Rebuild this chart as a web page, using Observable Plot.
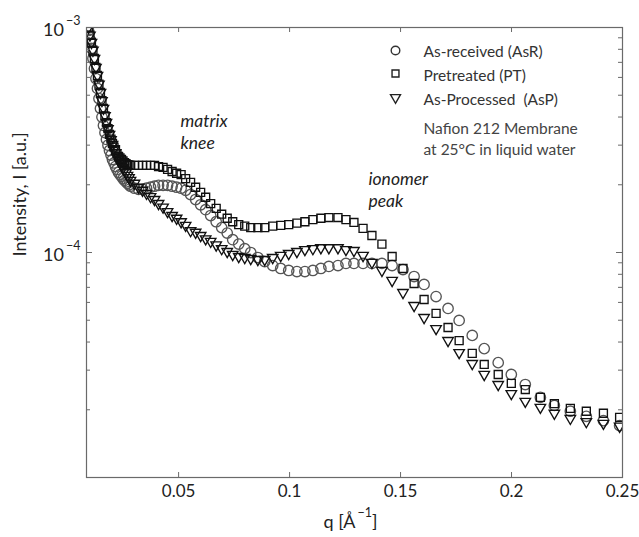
<!DOCTYPE html>
<html><head><meta charset="utf-8">
<script src="https://cdn.jsdelivr.net/npm/d3@7"></script>
<script src="https://cdn.jsdelivr.net/npm/@observablehq/plot@0.6"></script>
<style>html,body{margin:0;padding:0;background:#fff;} #chart{width:639px;height:537px;}</style>
</head><body><div id="chart"></div>
<script>
// scattering vector q [1/Å], shared by the three measurements
const q = [0.00937, 0.01005, 0.01072, 0.0114, 0.01208, 0.01275, 0.01343, 0.01411, 0.01479, 0.01546,
  0.01614, 0.01682, 0.01749, 0.01817, 0.01885, 0.01953, 0.0202, 0.02088, 0.02156, 0.02223,
  0.02291, 0.02359, 0.02427, 0.02494, 0.02562, 0.0263, 0.02697, 0.02765, 0.02833,
  0.03013, 0.03194, 0.03375, 0.03555, 0.03736,
  0.03916, 0.04097, 0.0430, 0.04503, 0.04707, 0.0491, 0.05113, 0.05316, 0.0554, 0.05767,
  0.05993, 0.06219, 0.06445, 0.06693, 0.06941, 0.0719, 0.07438, 0.07709, 0.0798, 0.0825,
  0.0857, 0.0888, 0.0924, 0.0960, 0.0996, 0.1033, 0.1069, 0.1105, 0.1141, 0.1177,
  0.1218, 0.1254, 0.1290, 0.1331, 0.1371, 0.1416, 0.1462, 0.1511, 0.1561, 0.1606,
  0.1660, 0.1714, 0.1764, 0.1823, 0.1877, 0.1940, 0.1999, 0.2062, 0.2130, 0.2193,
  0.2265, 0.2337, 0.2414, 0.2487];
// intensities in units of 1e-4 a.u.
const asReceived = [9.70, 8.85, 8.07, 7.28, 6.57, 5.93, 5.36, 4.83, 4.37, 4.00,
  3.67, 3.41, 3.18, 3.00, 2.84, 2.71, 2.59, 2.50, 2.41, 2.34,
  2.27, 2.22, 2.18, 2.13, 2.09, 2.06, 2.03, 2.00, 1.97,
  1.93, 1.91, 1.91, 1.93, 1.95,
  1.97, 1.99, 1.99, 1.99, 1.97, 1.95, 1.93, 1.89, 1.81, 1.72,
  1.63, 1.55, 1.46, 1.37, 1.29, 1.22, 1.14, 1.09, 1.04, 1.00,
  0.950, 0.912, 0.875, 0.849, 0.832, 0.823, 0.823, 0.832, 0.849, 0.867,
  0.875, 0.894, 0.894, 0.894, 0.894, 0.894, 0.875, 0.840, 0.782, 0.721,
  0.637, 0.564, 0.499, 0.428, 0.374, 0.324, 0.287, 0.259, 0.227, 0.209,
  0.197, 0.187, 0.179, 0.170];
const pretreated = [10.0, 9.25, 8.58, 7.92, 7.28, 6.65, 6.12, 5.60, 5.14, 4.73,
  4.37, 4.05, 3.78, 3.55, 3.35, 3.19, 3.05, 2.94, 2.84, 2.75,
  2.67, 2.63, 2.59, 2.55, 2.51, 2.48, 2.46, 2.45, 2.44,
  2.44, 2.44, 2.44, 2.44, 2.44,
  2.44, 2.41, 2.39, 2.34, 2.29, 2.25, 2.22, 2.13, 2.05, 1.95,
  1.85, 1.76, 1.65, 1.57, 1.48, 1.42, 1.37, 1.33, 1.31, 1.29,
  1.29, 1.29, 1.31, 1.32, 1.33, 1.35, 1.37, 1.40, 1.42, 1.43,
  1.43, 1.40, 1.36, 1.28, 1.19, 1.09, 0.960, 0.849, 0.728, 0.618,
  0.536, 0.464, 0.406, 0.356, 0.318, 0.287, 0.262, 0.246, 0.227, 0.213,
  0.203, 0.197, 0.193, 0.185];
const asProcessed = [10.0, 9.25, 8.58, 7.92, 7.28, 6.65, 6.12, 5.60, 5.14, 4.73,
  4.37, 4.05, 3.78, 3.55, 3.35, 3.17, 3.02, 2.89, 2.78, 2.68,
  2.59, 2.51, 2.44, 2.38, 2.32, 2.26, 2.20, 2.15, 2.09,
  2.03, 1.95, 1.89, 1.83, 1.77,
  1.72, 1.65, 1.59, 1.52, 1.46, 1.42, 1.37, 1.32, 1.25, 1.23,
  1.19, 1.15, 1.12, 1.08, 1.04, 1.01, 0.980, 0.960, 0.950, 0.940,
  0.931, 0.931, 0.950, 0.970, 0.990, 1.01, 1.03, 1.04, 1.05, 1.05,
  1.05, 1.03, 1.02, 0.970, 0.903, 0.832, 0.751, 0.664, 0.581, 0.514,
  0.459, 0.406, 0.359, 0.321, 0.287, 0.259, 0.236, 0.218, 0.205, 0.193,
  0.183, 0.177, 0.174, 0.169];

const xTicks = [0.05, 0.1, 0.15, 0.2, 0.25];
const xTickLabels = ["0.05", "0.1", "0.15", "0.2", "0.25"];
const yMajor = [1e-3, 1e-4];
const yTickLabels = ["10^−3", "10^−4"];
const yMinor = [2e-5, 3e-5, 4e-5, 5e-5, 6e-5, 7e-5, 8e-5, 9e-5,
  2e-4, 3e-4, 4e-4, 5e-4, 6e-4, 7e-4, 8e-4, 9e-4];
const legendLabels = ["As-received (AsR)", "Pretreated (PT)", "As-Processed  (AsP)"];
const noteLines = ["Nafion 212 Membrane", "at 25°C in liquid water"];
const annotations = ["matrix\nknee", "ionomer\npeak"];
const xLabel = "q [Å^−1]";
const yLabel = "Intensity, I [a.u.]";

const W = 639, H = 537, ML = 86, MR = 17, MT = 27, MB = 60;
const innerW = W - ML - MR, innerH = H - MT - MB;
const rows = vals => q.map((d, i) => ({q: d, I: vals[i] * 1e-4}));

const styles = [
  {symbol: "circle", r: 5.2, stroke: "#555", rotate: 0, lr: 4.3, lstroke: "#333"},
  {symbol: "square", r: 4.5, stroke: "#111", rotate: 0, lr: 3.9, lstroke: "#222"},
  {symbol: "triangle", r: 3.9, stroke: "#111", rotate: 180, lr: 3.7, lstroke: "#222"}
];
const series = [asReceived, pretreated, asProcessed];
const axisColor = "#6a6a6a";
const textColor = "#222";

const marks = [];
series.forEach((vals, k) => {
  const s = styles[k];
  marks.push(Plot.dot(rows(vals), {x: "q", y: "I", symbol: s.symbol, r: s.r, rotate: s.rotate,
    stroke: s.stroke, strokeWidth: 1.35, fill: "none", clip: true}));
});
marks.push(
  Plot.frame({stroke: axisColor, strokeWidth: 1.2}),
  Plot.tickX(xTicks, {x: d => d, insetTop: innerH - 5, stroke: axisColor}),
  Plot.tickX(xTicks, {x: d => d, insetBottom: innerH - 5, stroke: axisColor}),
  Plot.tickY(yMajor, {y: d => d, insetRight: innerW - 6, stroke: axisColor}),
  Plot.tickY(yMajor, {y: d => d, insetLeft: innerW - 6, stroke: axisColor}),
  Plot.tickY(yMinor, {y: d => d, insetRight: innerW - 4, stroke: axisColor}),
  Plot.tickY(yMinor, {y: d => d, insetLeft: innerW - 4, stroke: axisColor}),
  Plot.text(xTicks, {x: d => d, text: (d, i) => xTickLabels[i], frameAnchor: "bottom",
    lineAnchor: "middle", dy: 14, fontSize: 17, fill: textColor}),
  Plot.text(yMajor, {y: d => d, text: (d, i) => yTickLabels[i], frameAnchor: "left",
    textAnchor: "end", lineAnchor: "middle", dx: -6, dy: 3, fontSize: 18, fill: textColor}),
  Plot.text([xLabel], {text: d => d, frameAnchor: "bottom", lineAnchor: "bottom",
    dx: -4, dy: 50, fontSize: 18, fill: textColor}),
  Plot.text([yLabel], {text: d => d, frameAnchor: "left", rotate: -90, lineAnchor: "middle",
    dx: -66, dy: 4, fontSize: 18, fill: textColor})
);
// legend
const legendDy = [23, 46, 70];
const legendTextDy = [29, 53, 77];
legendLabels.forEach((label, i) => {
  const s = styles[i];
  marks.push(Plot.dot([label], {frameAnchor: "top-left", dx: 309, dy: legendDy[i], symbol: s.symbol,
    r: s.lr, rotate: s.rotate, stroke: s.lstroke, strokeWidth: 1.4, fill: "none"}));
  marks.push(Plot.text([label], {text: d => d, frameAnchor: "top-left", textAnchor: "start",
    lineAnchor: "bottom", dx: 337, dy: legendTextDy[i], fontSize: 15.5, fill: "#333"}));
});
const noteDy = [106, 127];
noteLines.forEach((line, i) => {
  marks.push(Plot.text([line], {text: d => d, frameAnchor: "top-left", textAnchor: "start",
    lineAnchor: "bottom", dx: 337, dy: noteDy[i], fontSize: 15.5, fill: "#444"}));
});
// annotations
const annDx = [94, 282], annDy = [121, 179];
annotations.forEach((t, i) => {
  marks.push(Plot.text([t], {text: d => d, frameAnchor: "top-left", textAnchor: "start",
    lineAnchor: "bottom", lineHeight: 1.25, dx: annDx[i], dy: annDy[i], fontSize: 17.5,
    fontStyle: "italic", fill: textColor}));
});

const plot = Plot.plot({
  width: W, height: H,
  marginLeft: ML, marginRight: MR, marginTop: MT, marginBottom: MB,
  style: {fontFamily: "Lato, 'Open Sans', sans-serif", background: "#fff", overflow: "visible"},
  x: {domain: [0.0085, 0.25], axis: null},
  y: {type: "log", domain: [1e-5, 1e-3], axis: null},
  marks
});

// turn "base^exp" strings into real superscripts
const ns = "http://www.w3.org/2000/svg";
for (const t of plot.querySelectorAll("text")) {
  const m = t.textContent.match(/^(.*)\^([−\-]?\d+)(.*)$/);
  if (!m || t.querySelector("tspan")) continue;
  t.textContent = "";
  const a = document.createElementNS(ns, "tspan"); a.textContent = m[1]; t.appendChild(a);
  const b = document.createElementNS(ns, "tspan"); b.textContent = m[2];
  b.setAttribute("dy", "-11"); b.setAttribute("font-size", "12.5"); b.setAttribute("dx", "2"); t.appendChild(b);
  if (m[3]) {
    const c = document.createElementNS(ns, "tspan"); c.textContent = m[3];
    c.setAttribute("dy", "11"); t.appendChild(c);
  }
}
document.getElementById("chart").appendChild(plot);
</script>
</body></html>
